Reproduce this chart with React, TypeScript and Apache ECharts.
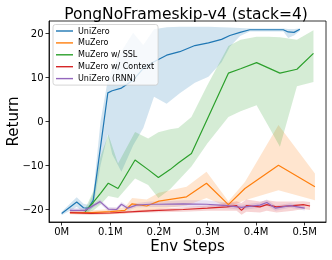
import React, { useEffect, useRef } from 'react';
import * as echarts from 'echarts';

const FONT = "'DejaVu Sans', sans-serif";

const xTicks = [0, 0.1, 0.2, 0.3, 0.4, 0.5];
const yTicks = [-20, -10, 0, 10, 20];

const names = ['UniZero', 'MuZero', 'MuZero w/ SSL', 'MuZero w/ Context', 'UniZero (RNN)'];
const colors = ['#1f77b4', '#ff7f0e', '#2ca02c', '#d62728', '#9467bd'];

// UniZero
const uniZeroX = [0, 0.031, 0.045, 0.055, 0.065, 0.08, 0.095, 0.104, 0.123, 0.147, 0.168, 0.19, 0.216, 0.243, 0.274, 0.302, 0.329, 0.346, 0.367, 0.387, 0.456, 0.466, 0.478, 0.49];
const uniZeroMean = [-21, -18.4, -19.7, -19.8, -18, -5.8, 6.5, 7.0, 7.6, 9.4, 12.1, 13.6, 15.1, 15.9, 17.3, 17.9, 18.7, 19.6, 20.3, 20.9, 20.9, 20.4, 20.3, 21.0];
const uniZeroHigh = [-20.6, -17.3, -18.8, -19, -16.5, 0, 9.5, 12, 16, 20.2, 17.4, 21.0, 21.5, 21.6, 21.6, 21.6, 21.5, 21.4, 21.3, 21.2, 21.2, 21.1, 21.1, 21.2];
const uniZeroLow = [-21.4, -19.5, -20.6, -20.6, -19.5, -10, -3.0, -7.5, -11.5, -5.5, -1.5, 5.6, 4.0, 6.4, 8.8, 10.2, 13.5, 17, 19.5, 20.5, 20.5, 19.0, 19.6, 20.6];

// MuZero
const muZeroX = [0.017, 0.06, 0.1, 0.13, 0.145, 0.175, 0.2, 0.257, 0.298, 0.343, 0.377, 0.446, 0.521];
const muZeroMean = [-20.8, -20.8, -20.6, -20.3, -18.8, -19.3, -18.2, -17.2, -14.1, -19.0, -15.3, -10.0, -14.9];
const muZeroHigh = [-20.4, -20.3, -20.0, -19.6, -17.5, -17.8, -16.3, -14.9, -11.5, -18.2, -13.8, -0.8, -11.9];
const muZeroLow = [-21.2, -21.2, -21.1, -21, -20.3, -20.6, -20.0, -19.2, -17.5, -19.6, -18, -15.7, -18];

// MuZero w/ SSL
const sslX = [0.048, 0.065, 0.08, 0.096, 0.116, 0.151, 0.178, 0.199, 0.223, 0.24, 0.267, 0.3, 0.343, 0.368, 0.401, 0.425, 0.449, 0.484, 0.518];
const sslMean = [-20.6, -18.5, -16.4, -14.1, -15.3, -8.8, -11.0, -12.8, -11.0, -9.5, -7.3, 0.6, 11.0, 12.0, 13.4, 12.2, 11.0, 11.9, 15.5];
const sslHigh = [-20, -16, -8, -3, -9.6, -2.4, -3.9, -2.5, -1.8, -1.5, 1.0, 8.3, 17.2, 18.6, 19.3, 19.3, 19.2, 18.6, 20.8];
const sslLow = [-21, -20.3, -19, -17, -17.5, -13, -14.5, -17.5, -15.5, -13.5, -10.3, -5, 1.0, 2.3, 3.7, -1.0, -5.8, 8, 9];

// MuZero w/ Context
const ctxX = [0.017, 0.06, 0.1, 0.15, 0.2, 0.25, 0.3, 0.34, 0.36, 0.37, 0.38, 0.408, 0.422, 0.442, 0.476, 0.497, 0.511];
const ctxMean = [-20.8, -21.0, -20.9, -20.6, -20.3, -20.1, -19.8, -19.5, -19.2, -20.3, -19.2, -19.5, -19.0, -19.5, -19.2, -19.0, -19.3];
const ctxHigh = [-20.5, -20.7, -20.6, -20.3, -19.9, -19.6, -19.2, -18.6, -18.2, -18.6, -17.8, -18.3, -18.0, -18.3, -18.3, -18.2, -18.4];
const ctxLow = [-21.1, -21.3, -21.2, -20.9, -20.7, -20.6, -20.4, -20.4, -20.4, -21.3, -20.6, -20.8, -20.4, -20.8, -20.4, -20.0, -20.2];

// UniZero (RNN)
const rnnX = [0.017, 0.048, 0.079, 0.096, 0.113, 0.123, 0.136, 0.154, 0.182, 0.2, 0.25, 0.298, 0.34, 0.37, 0.408, 0.422, 0.44, 0.47, 0.5];
const rnnMean = [-20.3, -20.3, -18.3, -20.0, -20.1, -18.9, -19.8, -19.1, -18.9, -18.9, -18.8, -18.9, -19.2, -19.6, -19.1, -18.5, -19.8, -19.2, -19.8];
const rnnHigh = [-19.8, -19.8, -17.8, -19.5, -19.6, -18.4, -19.3, -18.6, -18.3, -18.3, -18.0, -18.0, -18.5, -19.0, -18.5, -17.8, -19.2, -18.7, -19.3];
const rnnLow = [-20.8, -20.8, -18.8, -20.5, -20.6, -19.4, -20.3, -19.6, -19.5, -19.5, -19.5, -19.6, -19.8, -20.2, -19.7, -19.2, -20.4, -19.7, -20.3];

const groups = [
  { x: uniZeroX, mean: uniZeroMean, lo: uniZeroLow, hi: uniZeroHigh },
  { x: muZeroX, mean: muZeroMean, lo: muZeroLow, hi: muZeroHigh },
  { x: sslX, mean: sslMean, lo: sslLow, hi: sslHigh },
  { x: ctxX, mean: ctxMean, lo: ctxLow, hi: ctxHigh },
  { x: rnnX, mean: rnnMean, lo: rnnLow, hi: rnnHigh },
];

function hexToRgba(hex: string, a: number) {
  const n = parseInt(hex.slice(1), 16);
  return `rgba(${(n >> 16) & 255},${(n >> 8) & 255},${n & 255},${a})`;
}

export default function App() {
  const ref = useRef<HTMLDivElement>(null);
  useEffect(() => {
    if (!ref.current) return;
    const chart = echarts.init(ref.current, null, { renderer: 'svg' });

    const bandSeries = groups.map((g, k) => ({
      type: 'custom',
      silent: true,
      z: 1,
      data: g.x.map((x, i) => [x, g.lo[i], g.hi[i]]),
      encode: { x: 0, y: [1, 2] },
      renderItem: (params: any, api: any) => {
        if (params.dataIndex !== 0) return null;
        const up = g.x.map((x, i) => api.coord([x, g.hi[i]]));
        const dn = g.x.map((x, i) => api.coord([x, g.lo[i]])).reverse();
        return {
          type: 'polygon',
          shape: { points: up.concat(dn) },
          style: { fill: hexToRgba(colors[k], 0.2), stroke: 'none' },
        };
      },
    }));

    const lineSeries = groups.map((g, k) => ({
      type: 'line',
      name: names[k],
      z: 3,
      symbol: 'none',
      showSymbol: false,
      data: g.x.map((x, i) => [x, g.mean[i]]),
      lineStyle: { width: 1.2, color: colors[k] },
      itemStyle: { color: colors[k] },
    }));

    const fmtX = (v: number) => (v === 0 ? '0M' : `${v.toFixed(1)}M`);
    const fmtY = (v: number) => (v < 0 ? `\u2212${Math.abs(v)}` : `${v}`);

    chart.setOption({
      animation: false,
      title: {
        text: 'PongNoFrameskip-v4 (stack=4)',
        left: 181,
        top: 1,
        textAlign: 'center',
        textStyle: { fontFamily: FONT, fontSize: 15.5, fontWeight: 'normal', color: '#000' },
      },
      grid: {
        left: 49,
        right: 6,
        top: 21,
        bottom: 38,
        containLabel: false,
        outerBoundsMode: 'none',
        show: true,
        borderColor: '#000',
        borderWidth: 0.8,
        backgroundColor: 'transparent',
      },
      legend: {
        data: names.map((n) => ({ name: n, icon: 'rect' })),
        orient: 'vertical',
        left: 53,
        top: 24.5,
        itemWidth: 17,
        itemHeight: 1.4,
        itemGap: 2.9,
        padding: [2, 4, 2, 3],
        backgroundColor: 'rgba(255,255,255,0.8)',
        borderColor: '#cccccc',
        borderWidth: 0.8,
        borderRadius: 2.5,
        selectedMode: false,
        textStyle: { fontFamily: FONT, fontSize: 8, color: '#000', lineHeight: 9 },
      },
      xAxis: {
        type: 'value',
        min: -0.026,
        max: 0.5438,
        name: 'Env Steps',
        nameLocation: 'middle',
        nameGap: 16,
        nameMoveOverlap: false,
        nameTextStyle: { fontFamily: FONT, fontSize: 15, color: '#000' },
        axisLine: { show: true, onZero: false, lineStyle: { color: '#000', width: 0.8 } },
        axisTick: { show: true, inside: false, length: 3.5, customValues: xTicks, lineStyle: { color: '#000', width: 0.8 } },
        axisLabel: { customValues: xTicks, formatter: fmtX, fontFamily: FONT, fontSize: 10, color: '#000', margin: 4.5 },
        splitLine: { show: false },
      },
      yAxis: {
        type: 'value',
        min: -22.95,
        max: 22.9,
        name: 'Return',
        nameLocation: 'middle',
        nameGap: 29,
        nameMoveOverlap: false,
        nameTextStyle: { fontFamily: FONT, fontSize: 15, color: '#000' },
        axisLine: { show: true, onZero: false, lineStyle: { color: '#000', width: 0.8 } },
        axisTick: { show: true, inside: false, length: 3.5, customValues: yTicks, lineStyle: { color: '#000', width: 0.8 } },
        axisLabel: { customValues: yTicks, formatter: fmtY, fontFamily: FONT, fontSize: 10, color: '#000', margin: 5.5 },
        splitLine: { show: false },
      },
      series: [...bandSeries, ...lineSeries],
    });

    return () => chart.dispose();
  }, []);

  return <div ref={ref} style={{ position: 'fixed', left: 0, top: 0, width: 332, height: 260 }} />;
}
